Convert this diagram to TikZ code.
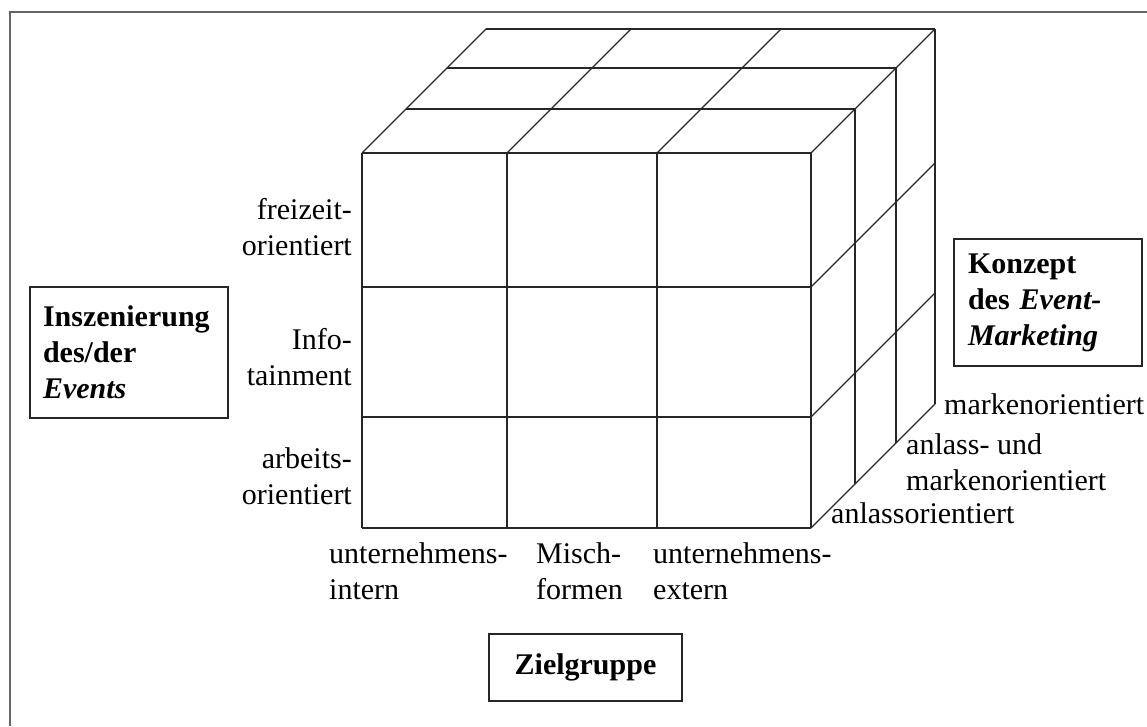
\documentclass[tikz,border=0pt]{standalone}
\usepackage{fontspec}
\setmainfont{Liberation Serif}
\usetikzlibrary{calc}

\tikzset{
  cubeline/.style={black!85, line width=1.3pt},
  axislabel/.style={inner sep=0pt, align=left},
  dimbox/.style={draw=black!85, line width=1.3pt, align=left, font=\fontsize{30}{36}\selectfont\bfseries},
}

\begin{document}
\begin{tikzpicture}[x=1pt, y=-1pt, font=\fontsize{30}{36}\selectfont]
\useasboundingbox (0,0) rectangle (1147,726);
\draw[black!60, line width=1.6pt] (1147,12) -- (10,12) -- (10,726);

% front face
\foreach \x in {362,507,657,811} \draw[cubeline] (\x,153) -- (\x,528);
\foreach \y in {153,287,417,528} \draw[cubeline] (362,\y) -- (811,\y);
% top face
\foreach \x in {362,507,657,811} \draw[cubeline] (\x,153) --++(124,-124);
\foreach \d in {44,85,124} \draw[cubeline] (362+\d,153-\d) -- (811+\d,153-\d);
% right face
\foreach \y in {287,417,528} \draw[cubeline] (811,\y) --++(124,-124);
\foreach \d in {44,85,124} \draw[cubeline] (811+\d,153-\d) -- (811+\d,528-\d);

% Inszenierung (base = last line)
\node[axislabel, align=right, anchor=base east] (freizeit) at (352,255) {freizeit-\\orientiert};
\node[axislabel, align=right, anchor=base east] (info) at (352,385) {Info-\\tainment};
\node[axislabel, align=right, anchor=base east] (arbeit) at (352,504) {arbeits-\\orientiert};

% Zielgruppe
\node[axislabel, anchor=base west] (intern) at (329,599) {unternehmens-\\intern};
\node[axislabel, anchor=base west] (misch) at (536,599) {Misch-\\formen};
\node[axislabel, anchor=base west] (extern) at (653,599) {unternehmens-\\extern};

% Konzept
\node[axislabel, anchor=base west] (marke) at (944,414) {markenorientiert};
\node[axislabel, anchor=base west] (beides) at (906,490) {anlass- und\\markenorientiert};
\node[axislabel, anchor=base west] (anlass) at (831,523) {anlassorientiert};

% boxes
\node[dimbox, text width=172pt, inner xsep=13pt, minimum height=131pt] (inszenierung) at (129,352.5)
  {Inszenierung\\des/der\\\textit{Events}};
\node[dimbox, text width=160pt, inner xsep=14pt, minimum height=127pt] (konzept) at (1048,302.5)
  {Konzept\\des \textit{Event-}\\\textit{Marketing}};
\node[dimbox, align=center, minimum width=193pt, minimum height=67pt] (zielgruppe) at (585.5,667.5)
  {Zielgruppe};

\end{tikzpicture}
\end{document}
